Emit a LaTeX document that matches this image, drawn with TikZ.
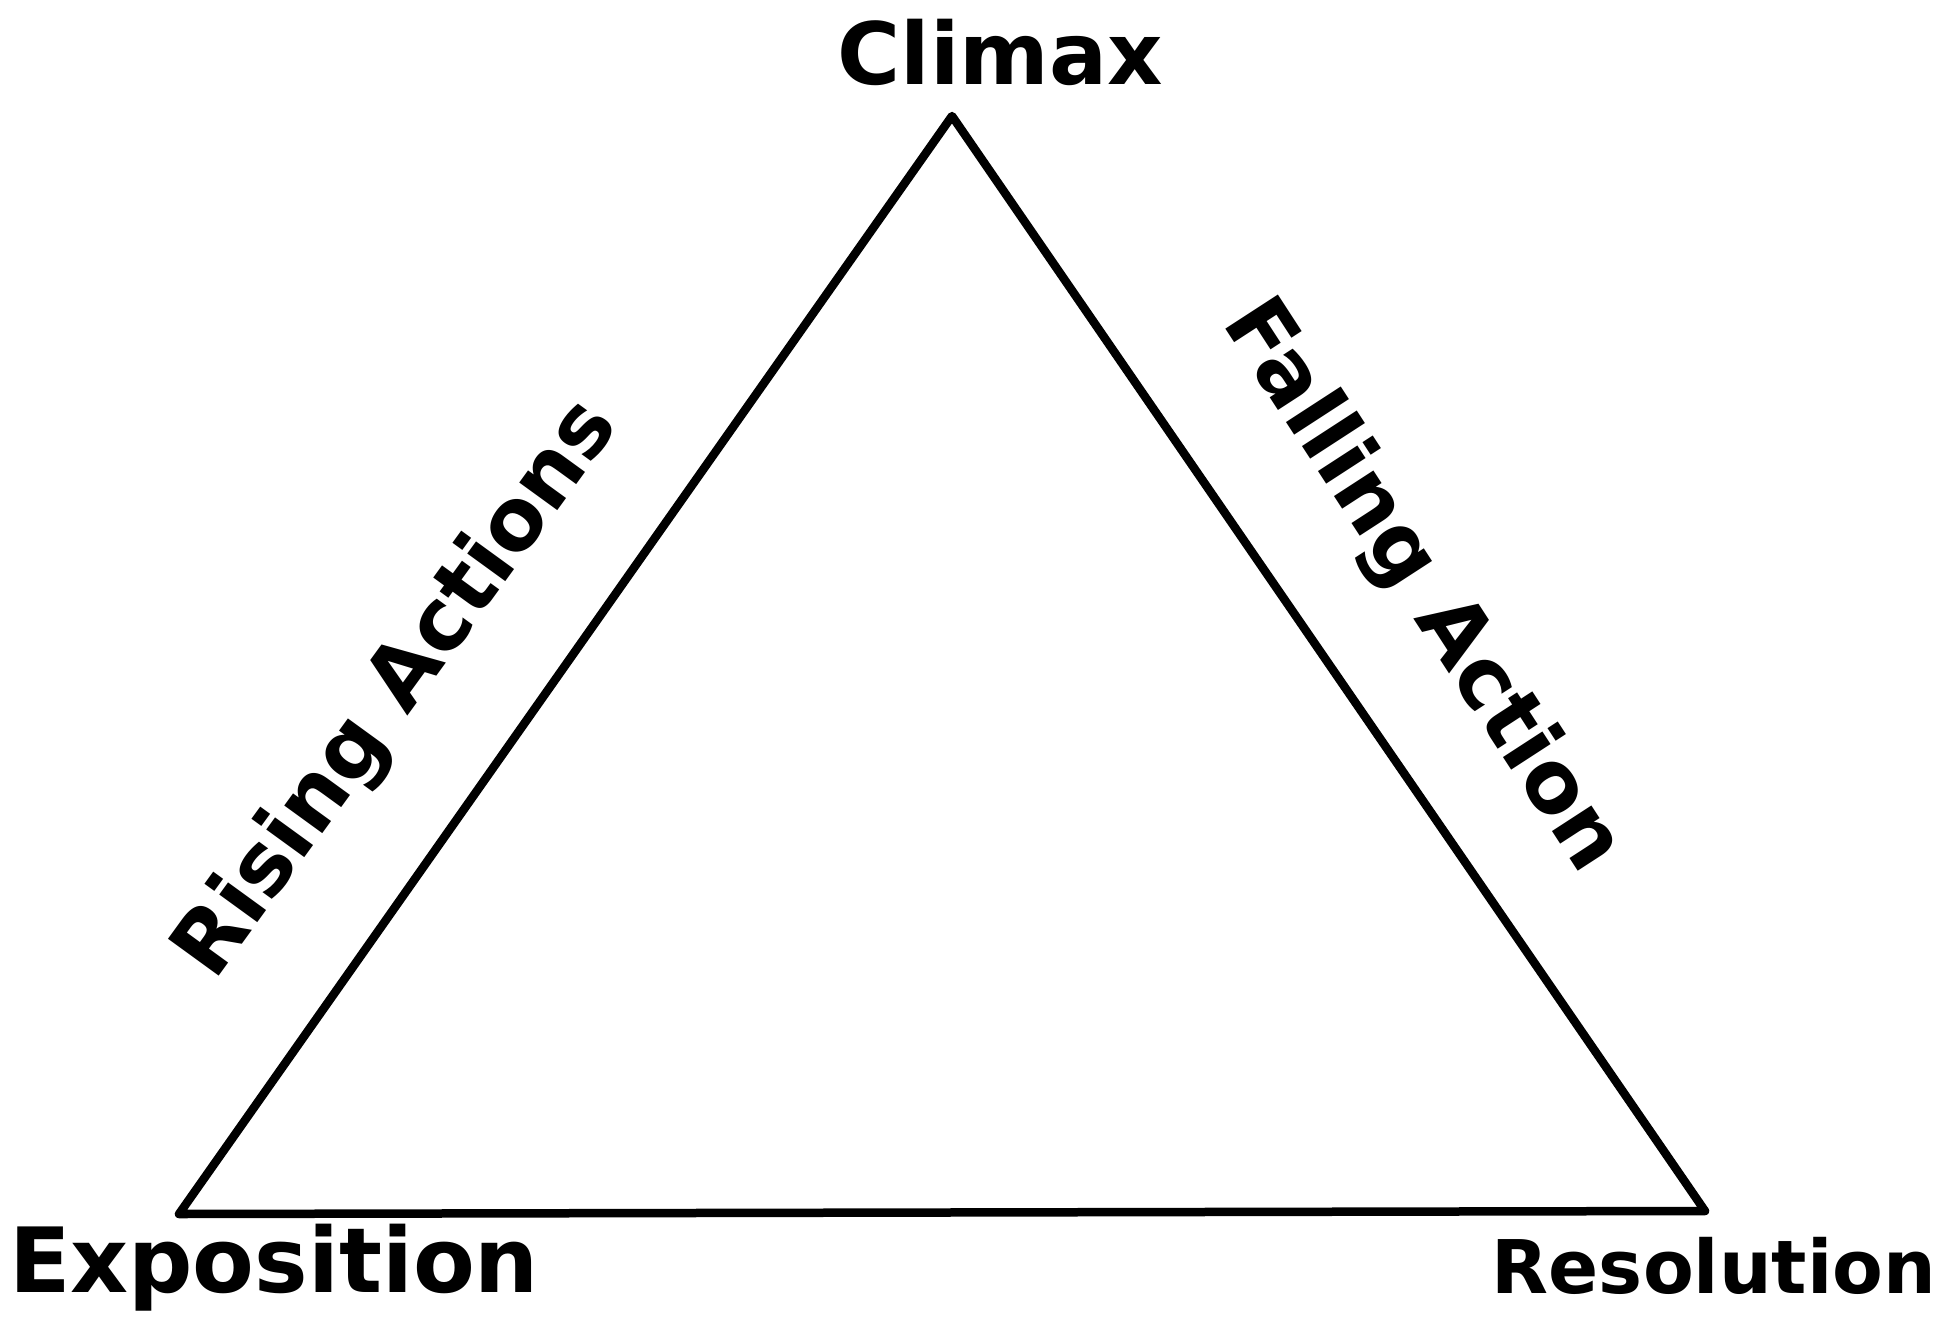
\documentclass[tikz,border=0pt]{standalone}
\usepackage{fontspec}
\setmainfont{DejaVu Sans}
\begin{document}
\begin{tikzpicture}[x=1pt,y=-1pt,
  side/.style={line width=8.5pt,line join=round,line cap=round,black},
  lbl/.style={inner sep=0pt,text=black,font=\bfseries}]
\useasboundingbox (0,0) rectangle (1937,1322);
\fill[white] (0,0) rectangle (1937,1322);
\coordinate (apex) at (952,116);
\coordinate (bl) at (179,1214);
\coordinate (br) at (1705,1211);
\draw[side] (bl) -- (apex) -- (br) -- cycle;
\node[lbl,font=\bfseries\fontsize{86}{86}\selectfont] (climax) at (1000,52) {Climax};
\node[lbl,font=\bfseries\fontsize{90}{90}\selectfont] (expo) at (274,1268) {Exposition};
\node[lbl,font=\bfseries\fontsize{74}{74}\selectfont] (reso) at (1714,1266) {Resolution};
\node[lbl,font=\bfseries\fontsize{86}{86}\selectfont,rotate=54] (rising) at (398,690) {Rising Actions};
\node[lbl,font=\bfseries\fontsize{86}{86}\selectfont,rotate=-57] (falling) at (1421,587) {Falling Action};
\end{tikzpicture}
\end{document}
